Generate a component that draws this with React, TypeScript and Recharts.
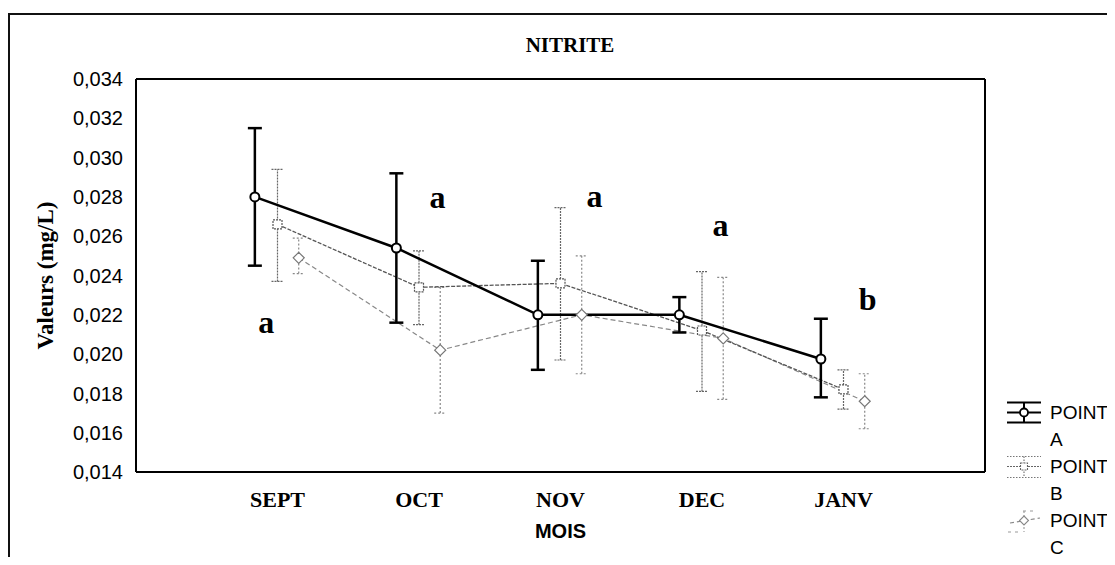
import React from "react";
import { ComposedChart, Line, Scatter, XAxis, YAxis, ErrorBar, Label } from "recharts";

const months = ["SEPT", "OCT", "NOV", "DEC", "JANV"];
const monthTicks = [1, 2, 3, 4, 5];
const yTicks = [0.014, 0.016, 0.018, 0.02, 0.022, 0.024, 0.026, 0.028, 0.03, 0.032, 0.034];

// mean values and error bar bounds (mg/L)
const pointA = [0.028, 0.0254, 0.022, 0.022, 0.01975];
const pointALow = [0.0245, 0.0216, 0.0192, 0.0211, 0.0178];
const pointAHigh = [0.0315, 0.0292, 0.02475, 0.0229, 0.0218];

const pointB = [0.0266, 0.0234, 0.0236, 0.0212, 0.0182];
const pointBLow = [0.0237, 0.0215, 0.0197, 0.0181, 0.0172];
const pointBHigh = [0.0294, 0.02525, 0.02745, 0.0242, 0.0192];

const pointC = [0.0249, 0.0202, 0.022, 0.0208, 0.0176];
const pointCLow = [0.0241, 0.017, 0.019, 0.0177, 0.0162];
const pointCHigh = [0.0259, 0.0234, 0.025, 0.0239, 0.019];

// significance letters, placed in chart units
const letters = ["a", "a", "a", "a", "b"];
const letterX = [0.92, 2.13, 3.24, 4.13, 5.17];
const letterY = [0.02107, 0.02744, 0.02749, 0.02601, 0.02224];

const SERIF = '"Liberation Serif", "Times New Roman", serif';
const SANS = '"Liberation Sans", Arial, sans-serif';

function buildSeries(vals: number[], low: number[], high: number[], shift: number) {
  return vals.map((v, i) => ({
    x: monthTicks[i] + shift,
    y: v,
    err: [v - low[i], high[i] - v],
  }));
}

const dataA = buildSeries(pointA, pointALow, pointAHigh, -0.16);
const dataB = buildSeries(pointB, pointBLow, pointBHigh, 0);
const dataC = buildSeries(pointC, pointCLow, pointCHigh, 0.15);
const letterData = letters.map((l, i) => ({ x: letterX[i], y: letterY[i], label: l }));

const circleDot = (p: any) => (
  <circle key={`a-${p.index}`} cx={p.cx} cy={p.cy} r={4.5} fill="#fff" stroke="#000" strokeWidth={2} />
);
const squareDot = (p: any) => (
  <rect key={`b-${p.index}`} x={p.cx - 4.5} y={p.cy - 4.5} width={9} height={9} fill="#fff" stroke="#555" strokeWidth={1.2} strokeDasharray="2 1" />
);
const diamondDot = (p: any) => (
  <path
    key={`c-${p.index}`}
    d={`M${p.cx},${p.cy - 5.5} L${p.cx + 5.5},${p.cy} L${p.cx},${p.cy + 5.5} L${p.cx - 5.5},${p.cy} Z`}
    fill="#fff"
    stroke="#777"
    strokeWidth={1.2}
  />
);

const letterShape = (p: any) => (
  <text x={p.cx} y={p.cy} textAnchor="middle" fontFamily={SERIF} fontWeight="bold" fontSize={32} fill="#000">
    {p.payload.label}
  </text>
);

const noLabel = () => "";

function LegendSymbol({ kind }: { kind: string }) {
  if (kind === "A") {
    return (
      <svg width={36} height={27}>
        <line x1={1} x2={35} y1={3.5} y2={3.5} stroke="#000" strokeWidth={2} />
        <line x1={1} x2={35} y1={23.5} y2={23.5} stroke="#000" strokeWidth={2} />
        <line x1={1} x2={35} y1={13.5} y2={13.5} stroke="#000" strokeWidth={2} />
        <line x1={18} x2={18} y1={3.5} y2={23.5} stroke="#000" strokeWidth={2} />
        <circle cx={18} cy={13.5} r={4} fill="#fff" stroke="#000" strokeWidth={1.8} />
      </svg>
    );
  }
  if (kind === "B") {
    return (
      <svg width={36} height={27}>
        <line x1={1} x2={35} y1={3.5} y2={3.5} stroke="#777" strokeWidth={1.2} strokeDasharray="1.5 1.5" />
        <line x1={1} x2={35} y1={24.5} y2={24.5} stroke="#777" strokeWidth={1.2} strokeDasharray="1.5 1.5" />
        <line x1={1} x2={35} y1={13.5} y2={13.5} stroke="#666" strokeWidth={1.2} strokeDasharray="2 1" />
        <line x1={18} x2={18} y1={3.5} y2={24.5} stroke="#777" strokeWidth={1.2} strokeDasharray="1.5 1.5" />
        <rect x={14.5} y={10} width={7} height={7} fill="#fff" stroke="#666" strokeWidth={1.1} strokeDasharray="2 1" />
      </svg>
    );
  }
  return (
    <svg width={36} height={27}>
      <line x1={17} x2={30} y1={4} y2={4} stroke="#999" strokeWidth={1.1} strokeDasharray="3 4" />
      <line x1={4} x2={34} y1={16} y2={11} stroke="#888" strokeWidth={1.1} strokeDasharray="4 3" />
      <line x1={2} x2={14} y1={25} y2={25} stroke="#999" strokeWidth={1.1} strokeDasharray="3 4" />
      <line x1={18} x2={18} y1={4} y2={25} stroke="#999" strokeWidth={1.1} strokeDasharray="2 2" />
      <path d="M18,9 L22.5,13.5 L18,18 L13.5,13.5 Z" fill="#fff" stroke="#888" strokeWidth={1.1} />
    </svg>
  );
}

const legendItems = ["A", "B", "C"];

export default function App() {
  return (
    <div style={{ position: "relative", width: 1107, height: 549, background: "#fff" }}>
      <div
        style={{
          position: "absolute",
          left: 0,
          top: 5,
          width: 1107,
          height: 544,
          borderTop: "2px solid #111",
          borderLeft: "2px solid #111",
          boxSizing: "border-box",
        }}
      />
      <div
        style={{
          position: "absolute",
          left: 562,
          top: 37,
          transform: "translate(-50%, -50%)",
          fontFamily: SERIF,
          fontWeight: "bold",
          fontSize: 21,
          whiteSpace: "nowrap",
        }}
      >
        NITRITE
      </div>
      <ComposedChart
        width={1107}
        height={549}
        margin={{ top: 71, right: 130, bottom: 0, left: 0 }}
        style={{ position: "absolute", left: 0, top: 0 }}
      >
        <XAxis
          xAxisId={0}
          dataKey="x"
          type="number"
          domain={[0, 6]}
          ticks={monthTicks}
          allowDataOverflow
          height={85}
          tickLine={false}
          tickSize={0}
          tickMargin={19}
          axisLine={{ stroke: "#000", strokeWidth: 2 }}
          tickFormatter={(v) => months[v - 1] ?? ""}
          tick={{ fill: "#000", fontFamily: SERIF, fontWeight: "bold", fontSize: 22 }}
        >
          <Label
            value="MOIS"
            position="insideBottom"
            offset={19}
            style={{ fill: "#000", fontFamily: SANS, fontWeight: "bold", fontSize: 20 }}
          />
        </XAxis>
        <XAxis
          xAxisId="bottomTicks"
          type="number"
          dataKey="x"
          domain={[0, 6]}
          ticks={monthTicks}
          orientation="bottom"
          mirror
          height={1}
          tickFormatter={noLabel}
          tickSize={4}
          axisLine={false}
          tickLine={{ stroke: "#000" }}
        />
        <XAxis
          xAxisId="top"
          type="number"
          dataKey="x"
          domain={[0, 6]}
          ticks={monthTicks}
          orientation="top"
          mirror
          height={1}
          tickFormatter={noLabel}
          tickSize={4}
          axisLine={{ stroke: "#000", strokeWidth: 2 }}
          tickLine={{ stroke: "#000" }}
        />
        <YAxis
          yAxisId={0}
          type="number"
          domain={[0.014, 0.034]}
          ticks={yTicks}
          allowDataOverflow
          width={128}
          tickLine={false}
          tickSize={0}
          tickMargin={13}
          axisLine={{ stroke: "#000", strokeWidth: 2 }}
          tickFormatter={(v) => v.toFixed(3).replace(".", ",")}
          tick={{ fill: "#000", fontFamily: SANS, fontSize: 20 }}
        >
          <Label
            value="Valeurs (mg/L)"
            angle={-90}
            position="center"
            dx={-27}
            style={{ fill: "#000", fontFamily: SERIF, fontWeight: "bold", fontSize: 23, textAnchor: "middle" }}
          />
        </YAxis>
        <YAxis
          yAxisId="leftTicks"
          type="number"
          domain={[0.014, 0.034]}
          ticks={yTicks}
          orientation="left"
          mirror
          width={1}
          tickFormatter={noLabel}
          tickSize={4}
          axisLine={false}
          tickLine={{ stroke: "#000" }}
        />
        <YAxis
          yAxisId="right"
          type="number"
          domain={[0.014, 0.034]}
          ticks={yTicks}
          orientation="right"
          mirror
          width={1}
          tickFormatter={noLabel}
          tickSize={4}
          axisLine={{ stroke: "#000", strokeWidth: 2 }}
          tickLine={{ stroke: "#000" }}
        />
        <Line
          data={dataC}
          dataKey="y"
          type="linear"
          stroke="#888"
          strokeWidth={1.2}
          strokeDasharray="5 3"
          dot={diamondDot}
          activeDot={false}
          isAnimationActive={false}
        >
          <ErrorBar dataKey="err" width={6} stroke="#888" strokeWidth={1.2} strokeDasharray="2 2" direction="y" />
        </Line>
        <Line
          data={dataB}
          dataKey="y"
          type="linear"
          stroke="#555"
          strokeWidth={1.3}
          strokeDasharray="4 1.5"
          dot={squareDot}
          activeDot={false}
          isAnimationActive={false}
        >
          <ErrorBar dataKey="err" width={6} stroke="#666" strokeWidth={1.2} strokeDasharray="2 1" direction="y" />
        </Line>
        <Line
          data={dataA}
          dataKey="y"
          type="linear"
          stroke="#000"
          strokeWidth={2.5}
          dot={circleDot}
          activeDot={false}
          isAnimationActive={false}
        >
          <ErrorBar dataKey="err" width={7} stroke="#000" strokeWidth={2.5} direction="y" />
        </Line>
        <Scatter data={letterData} dataKey="y" shape={letterShape} isAnimationActive={false} />
      </ComposedChart>
      <div style={{ position: "absolute", left: 998, top: 391, width: 109 }}>
        {legendItems.map((k) => (
          <div key={k} style={{ display: "flex", alignItems: "flex-start" }}>
            <LegendSymbol kind={k} />
            <div
              style={{
                width: 62,
                marginLeft: 8,
                flexShrink: 0,
                fontFamily: SANS,
                fontSize: 19,
                lineHeight: "27px",
                color: "#000",
              }}
            >
              POINT {k}
            </div>
          </div>
        ))}
      </div>
    </div>
  );
}
